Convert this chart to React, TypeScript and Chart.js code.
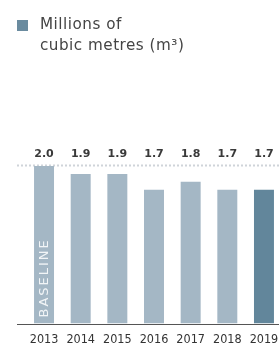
import React, { useEffect, useRef } from "react";
import { Chart, registerables } from "chart.js";

Chart.register(...registerables);

const years = ["2013", "2014", "2015", "2016", "2017", "2018", "2019"];
const values = [2.0, 1.9, 1.9, 1.7, 1.8, 1.7, 1.7];
const valueLabels = ["2.0", "1.9", "1.9", "1.7", "1.8", "1.7", "1.7"];
const legendLines = ["Millions of", "cubic metres (m³)"];
const baselineLabel = "BASELINE";
const referenceValue = 2.0;

const LIGHT = "#a4b7c5";
const DARK = "#62869b";

export default function App() {
  const canvasRef = useRef<HTMLCanvasElement | null>(null);

  useEffect(() => {
    const canvas = canvasRef.current;
    if (!canvas) return;

    const overlay = {
      id: "overlay",
      beforeDatasetsDraw(chart: any) {
        const { ctx, scales } = chart;
        const y = Math.round(scales.y.getPixelForValue(referenceValue)) - 0.5;
        ctx.save();
        ctx.strokeStyle = "#cfd4d9";
        ctx.lineWidth = 2;
        ctx.setLineDash([2, 2]);
        ctx.beginPath();
        ctx.moveTo(17, y);
        ctx.lineTo(279, y);
        ctx.stroke();
        ctx.restore();
      },
      afterDatasetsDraw(chart: any) {
        const { ctx, chartArea, scales } = chart;
        const meta = chart.getDatasetMeta(0);
        ctx.save();
        // axis line
        ctx.strokeStyle = "#555";
        ctx.lineWidth = 1;
        ctx.beginPath();
        ctx.moveTo(17, Math.round(chartArea.bottom) + 0.5);
        ctx.lineTo(279, Math.round(chartArea.bottom) + 0.5);
        ctx.stroke();
        // value labels
        const ly = scales.y.getPixelForValue(referenceValue) - 11.5;
        ctx.fillStyle = "#3a3a3a";
        ctx.font = "bold 11px 'DejaVu Sans'";
        ctx.textAlign = "center";
        ctx.textBaseline = "middle";
        meta.data.forEach((bar: any, i: number) => {
          ctx.fillText(valueLabels[i], bar.x, ly);
        });
        // baseline label
        const b0 = meta.data[0];
        ctx.translate(b0.x + 0.5, chartArea.bottom - 6);
        ctx.rotate(-Math.PI / 2);
        ctx.fillStyle = "#f2f5f7";
        ctx.font = "13px 'DejaVu Sans'";
        (ctx as any).letterSpacing = "2px";
        ctx.textAlign = "left";
        ctx.textBaseline = "middle";
        ctx.fillText(baselineLabel, 0, 0);
        ctx.restore();
      },
    };

    const chart = new Chart(canvas, {
      type: "bar",
      data: {
        labels: years,
        datasets: [
          {
            data: values,
            backgroundColor: values.map((_, i) => (i === values.length - 1 ? DARK : LIGHT)),
            categoryPercentage: 1,
            barPercentage: 0.545,
          },
        ],
      },
      options: {
        responsive: false,
        animation: false,
        layout: { padding: { top: 166, left: 25.7, right: 0.7, bottom: 0 } },
        plugins: {
          legend: { display: false },
          tooltip: { enabled: false },
        },
        scales: {
          y: { display: false, min: 0, max: 2.0 },
          x: {
            grid: { display: true, drawOnChartArea: false, drawTicks: true, tickLength: 10, color: "rgba(0,0,0,0)" },
            border: { display: false },
            ticks: {
              padding: 0,
              color: "#333",
              font: { family: "'Liberation Sans Narrow', 'DejaVu Sans Condensed', sans-serif", size: 12.5, lineHeight: 1 },
            },
          },
        },
      },
      plugins: [overlay],
    });

    return () => chart.destroy();
  }, []);

  return (
    <div style={{ position: "absolute", left: 0, top: 0, width: 279, height: 346, overflow: "hidden", background: "#fff" }}>
      <canvas ref={canvasRef} width={283} height={346} style={{ position: "absolute", left: 0, top: 0, width: 283, height: 346 }} />
      <div style={{ position: "absolute", left: 17, top: 20, width: 11, height: 11, background: "#6a8b9f" }} />
      <div
        style={{
          position: "absolute",
          left: 40,
          top: 14,
          fontFamily: "'DejaVu Sans', sans-serif",
          fontSize: 15.2,
          lineHeight: "21px",
          letterSpacing: "0.5px",
          color: "#444",
          whiteSpace: "nowrap",
        }}
      >
        {legendLines.map((l) => (
          <div key={l}>{l}</div>
        ))}
      </div>
    </div>
  );
}
